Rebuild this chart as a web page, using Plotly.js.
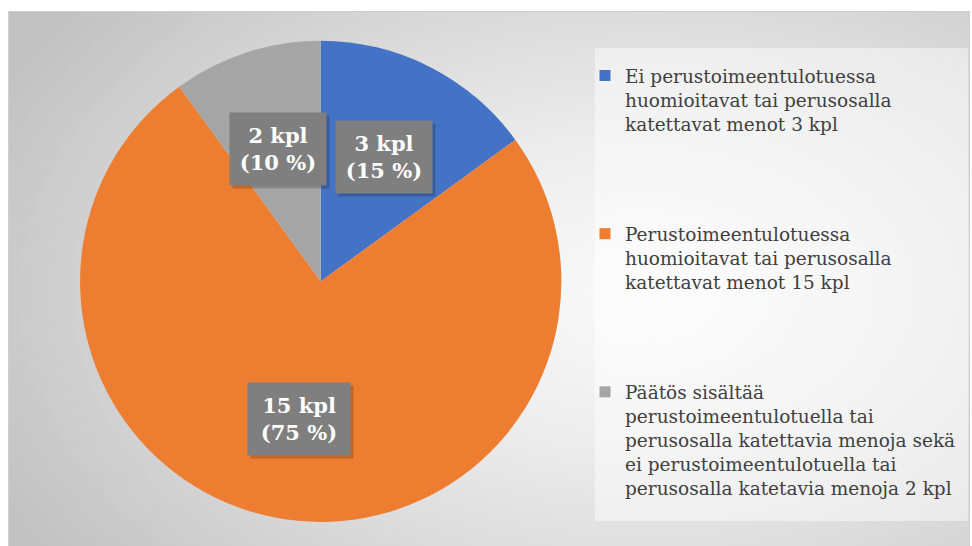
<!DOCTYPE html>
<html>
<head>
<meta charset="utf-8">
<script src="https://cdn.plot.ly/plotly-3.0.1.min.js"></script>
<style>
  html, body { margin: 0; padding: 0; background: #ffffff; }
  #wrap { position: relative; width: 972px; height: 546px; overflow: hidden; background: #ffffff; }
  #frame {
    position: absolute; left: 8px; top: 11px; width: 960px; height: 540px;
    border: 1px solid #cfcfcf;
    background: radial-gradient(ellipse 75% 85% at 66% 52%, #fbfbfb 0%, #ececec 35%, #d6d6d6 70%, #c2c2c2 100%);
  }
  #chart { position: absolute; left: 0; top: 0; width: 972px; height: 546px; }
</style>
</head>
<body>
<div id="wrap">
  <div id="frame"></div>
  <div id="chart"></div>
</div>
<script>
// ---- data ----
const categories = [
  "Ei perustoimeentulotuessa<br>huomioitavat tai perusosalla<br>katettavat menot 3 kpl",
  "Perustoimeentulotuessa<br>huomioitavat tai perusosalla<br>katettavat menot 15 kpl",
  "Päätös sisältää<br>perustoimeentulotuella tai<br>perusosalla katettavia menoja sekä<br>ei perustoimeentulotuella tai<br>perusosalla katetavia menoja 2 kpl"
];
const values = [3, 15, 2];
const unitLabel = "kpl";

// ---- styles ----
const colors = ["#4472C4", "#ED7D31", "#A5A5A5"];
const W = 972, H = 546;
const domX = [0.0823, 0.5776];
const domY = [0.044, 0.9255];
const serif = "DejaVu Serif";

const pie = {
  type: "pie",
  labels: categories,
  values: values,
  sort: false,
  direction: "clockwise",
  rotation: 0,
  marker: { colors: colors, line: { width: 0 } },
  textinfo: "none",
  hoverinfo: "label+value+percent",
  showlegend: false,
  domain: { x: domX, y: domY }
};

const legendTraces = categories.map((c, i) => ({
  type: "scatter",
  x: [null], y: [null],
  mode: "markers",
  marker: { symbol: "square", size: 11, color: colors[i] },
  name: c,
  legendgroup: "g" + i,
  showlegend: true,
  hoverinfo: "skip"
}));

const total = values.reduce((a, b) => a + b, 0);
const cxp = (domX[0] + domX[1]) / 2, cyp = (domY[0] + domY[1]) / 2;
const Rpx = Math.min((domX[1] - domX[0]) * W, (domY[1] - domY[0]) * H) / 2;
const labelFrac = 0.58;
const annotations = [];
const shadows = [];
let cum = 0;
values.forEach((v, i) => {
  const a0 = cum / total * 2 * Math.PI;
  cum += v;
  const a1 = cum / total * 2 * Math.PI;
  const mid = (a0 + a1) / 2;
  const r = Rpx * labelFrac;
  const x = cxp + r * Math.sin(mid) / W;
  const y = cyp + r * Math.cos(mid) / H;
  const pct = Math.round(v / total * 100);
  const txt = v + " " + unitLabel + "<br>(" + pct + " %)";
  const common = {
    xref: "paper", yref: "paper", x: x, y: y,
    xanchor: "center", yanchor: "middle",
    showarrow: false,
    width: v >= 10 ? 100 : 94, height: 70, align: "center"
  };
  shadows.push(Object.assign({}, common, {
    text: " ",
    xshift: 3, yshift: -3,
    bgcolor: "rgba(0,0,0,0.18)",
    font: { family: serif, size: 22, color: "rgba(0,0,0,0)" }
  }));
  annotations.push(Object.assign({}, common, {
    text: "<b>" + txt + "</b>",
    bgcolor: "#7F7F7F",
    font: { family: serif, size: 21, color: "#ffffff" }
  }));
});

const layout = {
  width: W, height: H,
  margin: { l: 0, r: 0, t: 0, b: 0 },
  paper_bgcolor: "rgba(0,0,0,0)",
  plot_bgcolor: "rgba(0,0,0,0)",
  font: { family: serif },
  xaxis: { visible: false, domain: [0.95, 1] },
  yaxis: { visible: false, domain: [0.95, 1] },
  showlegend: true,
  legend: {
    x: 585 / W, xanchor: "left",
    y: 1 - 57 / H, yanchor: "top",
    bgcolor: "rgba(0,0,0,0)",
    font: { family: serif, size: 18.5, color: "#404040" },
    valign: "top",
    tracegroupgap: 83,
    itemclick: false, itemdoubleclick: false
  },
  shapes: [{
    type: "rect", xref: "paper", yref: "paper", layer: "below",
    x0: 595 / W, x1: 968 / W, y0: 1 - 521 / H, y1: 1 - 48 / H,
    fillcolor: "rgba(255,255,255,0.45)", line: { width: 0 }
  }],
  annotations: shadows.concat(annotations)
};

Plotly.newPlot("chart", [pie].concat(legendTraces), layout, { displayModeBar: false, staticPlot: true });
</script>
</body>
</html>
